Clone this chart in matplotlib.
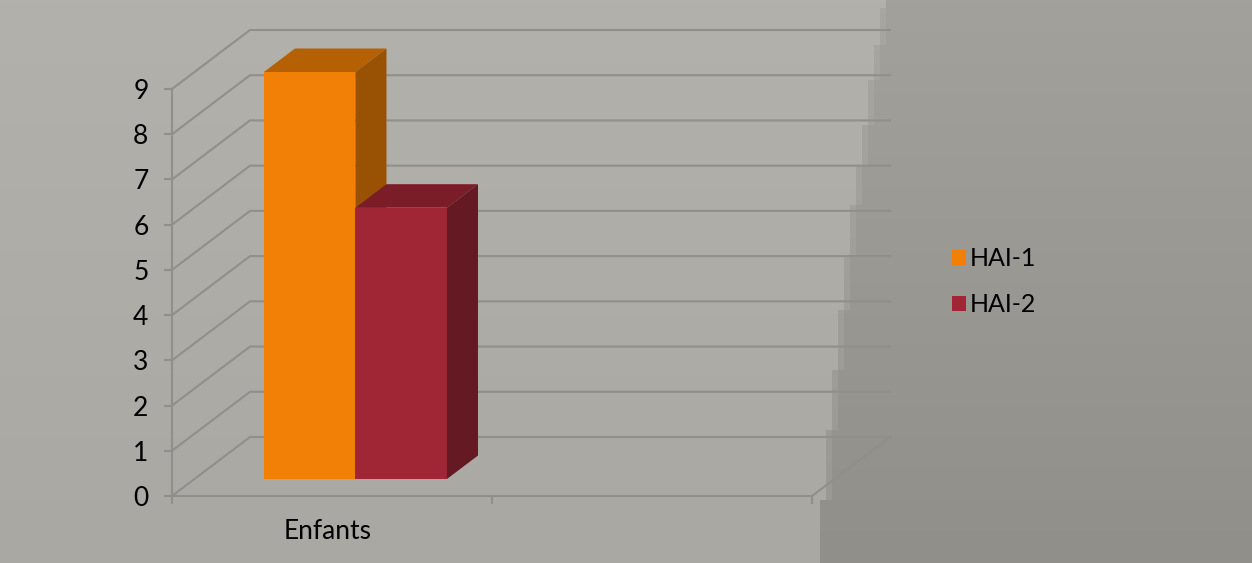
import numpy as np
import matplotlib
matplotlib.use('Agg')
import matplotlib.pyplot as plt
from matplotlib.patches import Polygon

plt.rcParams['font.family'] = ['Lato', 'DejaVu Sans']

categories = ['Enfants']
hai_1 = [9]
hai_2 = [6]
series_names = ['HAI-1', 'HAI-2']
y_ticks = list(range(10))

W, H = 1252, 563
fig = plt.figure(figsize=(W / 100, H / 100), dpi=100)

# slide background: two soft grey areas split by a stepped slanted edge
yy, xx = np.mgrid[0:H, 0:W]
step_y = [8, 45, 80, 125, 165, 205, 255, 310, 370, 430, 500]
step_x = [886, 880, 874, 868, 862, 856, 850, 844, 838, 832, 826, 820]
edge = np.array(step_x)[np.digitize(np.arange(H), step_y)][:, None]
band_w = np.where((yy[:, :1] < step_y[0]) | (yy[:, :1] >= step_y[-1]), 0, 6)
shade = yy / (H - 1)
light = np.dstack([178 - 9 * shade, 177 - 9 * shade, 171 - 8 * shade])
dark = np.dstack([162 - 18 * shade, 161 - 18 * shade, 155 - 17 * shade])
mask = (xx < edge)[:, :, None]
band = ((xx >= edge) & (xx < edge + band_w))[:, :, None]
bg = np.where(mask, light, np.where(band, (light + 2 * dark) / 3, dark))
bg_ax = fig.add_axes([0, 0, 1, 1], zorder=0)
bg_ax.imshow(bg.astype(np.uint8), aspect='auto', interpolation='bilinear')
bg_ax.axis('off')

# front plane of the 3D box: x 172..812 px, y 496..89 px
ax = fig.add_axes([172 / W, (H - 496) / H, 640 / W, 407 / H], zorder=1)
ax.patch.set_alpha(0)
ax.set_xlim(0, 2)
ax.set_ylim(0, 9)

# oblique projection of the depth axis, in data units
dx_unit = 78 / 320
dy_unit = 59 / (407 / 9)


def project(x, y, d):
    return x + d * dx_unit, y + d * dy_unit


grid_col = '#908f8b'
line_w = 1.5
for v in y_ticks:
    x0, y0 = project(0, v, 0)
    x1, y1 = project(0, v, 1)
    x2, y2 = project(2, v, 1)
    ax.plot([x0, x1, x2], [y0, y1, y2], color=grid_col, lw=line_w, clip_on=False, zorder=1)
x1, y1 = project(2, 0, 0)
x2, y2 = project(2, 0, 1)
ax.plot([x1, x2], [y1, y2], color=grid_col, lw=line_w, clip_on=False, zorder=1)


def bar3d(x, width, value, front, top, side, z):
    d0, d1 = 0.288, 0.686
    corners = [
        (front, [(x, 0, d0), (x + width, 0, d0), (x + width, value, d0), (x, value, d0)]),
        (top, [(x, value, d0), (x + width, value, d0), (x + width, value, d1), (x, value, d1)]),
        (side, [(x + width, 0, d0), (x + width, 0, d1), (x + width, value, d1), (x + width, value, d0)]),
    ]
    patches = []
    for col, pts in corners:
        p = Polygon([project(*c) for c in pts], closed=True, facecolor=col, edgecolor='none',
                    clip_on=False, zorder=z)
        ax.add_patch(p)
        patches.append(p)
    return patches[0]


bar_w = 0.286
colors = [('#f28006', '#b56002', '#995203'), ('#a02636', '#7b1d28', '#651923')]
handles = []
for i, name in enumerate(categories):
    c = i + 0.503
    h1 = bar3d(c - bar_w, bar_w, hai_1[i], *colors[0], 3)
    h2 = bar3d(c, bar_w, hai_2[i], *colors[1], 4)
    handles = [h1, h2]

for s in ('top', 'right'):
    ax.spines[s].set_visible(False)
for s in ('left', 'bottom'):
    ax.spines[s].set_color(grid_col)
    ax.spines[s].set_linewidth(line_w)
    ax.spines[s].set_zorder(2)

ax.set_yticks(y_ticks)
ax.set_xticks([0, 1, 2], ['', '', ''])
ax.tick_params(axis='both', length=6, width=line_w, color=grid_col)
ax.tick_params(axis='y', pad=11, labelsize=19, labelcolor='black')
for i, name in enumerate(categories):
    ax.text(i + 0.4875, -0.78, name, ha='center', va='center', fontsize=19, color='black',
            clip_on=False)

ax.legend(handles, series_names, loc='center left', bbox_to_anchor=(1.21875, 0.526), frameon=False,
          fontsize=18, handlelength=0.57, handleheight=0.57, handletextpad=0.14, labelspacing=0.92,
          borderpad=0, borderaxespad=0)

fig.savefig('out.png', dpi=100)
